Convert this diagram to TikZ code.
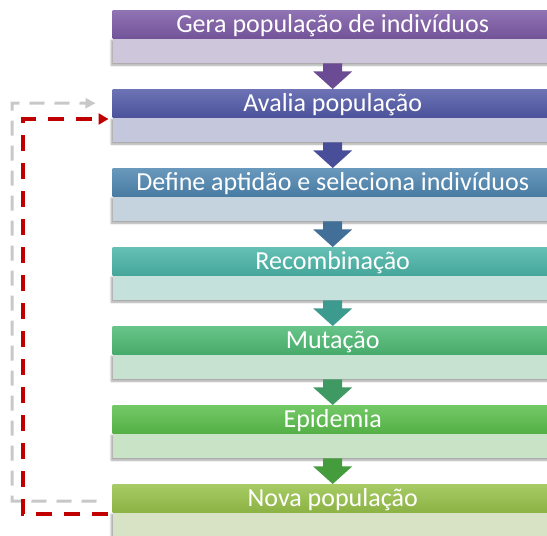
\documentclass[tikz,border=0pt]{standalone}
\usepackage{fontspec}
\setmainfont{Carlito}
\usetikzlibrary{calc,arrows.meta,shadows.blur}
\definecolor{h1}{HTML}{7D5BA6}\definecolor{c1}{HTML}{CEC6DA}\definecolor{a1}{HTML}{6A4B94}
\definecolor{h2}{HTML}{535AA8}\definecolor{c2}{HTML}{C5C7DD}\definecolor{a2}{HTML}{484F98}
\definecolor{h3}{HTML}{4F86B1}\definecolor{c3}{HTML}{C5D3DF}\definecolor{a3}{HTML}{426F97}
\definecolor{h4}{HTML}{4BB5A8}\definecolor{c4}{HTML}{C5E1DC}\definecolor{a4}{HTML}{3C9A8E}
\definecolor{h5}{HTML}{4DBA74}\definecolor{c5}{HTML}{C7E2D0}\definecolor{a5}{HTML}{3E9A62}
\definecolor{h6}{HTML}{5BBF4C}\definecolor{c6}{HTML}{C9E3C6}\definecolor{a6}{HTML}{459C3D}
\definecolor{h7}{HTML}{98C24A}\definecolor{c7}{HTML}{D8E3C5}
\definecolor{loopred}{HTML}{C00000}
\definecolor{loopgray}{HTML}{C8C8C8}
\tikzset{
  headbox/.style={rectangle, inner sep=0pt, minimum width=440pt, minimum height=28pt,
    text height=20pt, text depth=4pt, text=white, font=\fontsize{26}{28}\selectfont,
    anchor=north west},
  bodybox/.style={rectangle, inner sep=0pt, minimum width=440pt, minimum height=25pt,
    anchor=north west, blur shadow={shadow xshift=-1.5pt, shadow yshift=-2pt, shadow blur steps=4, shadow opacity=35}},
  redloop/.style={draw=loopred, line width=3.5pt, dash pattern=on 16pt off 12pt, -{Triangle[length=10pt,width=11pt]}},
  grayloop/.style={draw=loopgray, line width=3pt, dash pattern=on 15pt off 10pt, -{Triangle[length=10pt,width=10pt]}},
}
\newcommand{\flowarrow}[3]{%
  \fill[#3] ($(#1.south)+(-9.5,0)$) -- ($(#1.south)+(9.5,0)$) -- ($(#1.south)+(9.5,8)$)
    -- ($(#1.south)+(19.5,8)$) -- (#2.north) -- ($(#1.south)+(-19.5,8)$)
    -- ($(#1.south)+(-9.5,8)$) -- cycle;}
\begin{document}
\begin{tikzpicture}[x=1pt,y=-1pt]
\useasboundingbox (0,0) rectangle (547,536);
\begin{scope}
\clip (0,0) rectangle (547,536);
\foreach \i/\t in {1/{Gera população de indivíduos},2/{Avalia população},3/{Define aptidão e seleciona indivíduos},4/{Recombinação},5/{Mutação},6/{Epidemia},7/{Nova população}}{
  \node[bodybox, fill=c\i] (b\i) at (112.5,{10+79*(\i-1)+28}) {};
  \node[headbox, top color=h\i!85!white, bottom color=h\i!92!black] (h\i) at (112.5,{10+79*(\i-1)}) {\t};
}
\end{scope}
\flowarrow{b1}{h2}{a1}
\flowarrow{b2}{h3}{a2}
\flowarrow{b3}{h4}{a3}
\flowarrow{b4}{h5}{a4}
\flowarrow{b5}{h6}{a5}
\flowarrow{b6}{h7}{a6}
% loop connectors
\coordinate (gs) at ($(h7.west)+(-16,3)$);
\coordinate (ge) at ($(h2.west)+(-17,0)$);
\draw[grayloop] (gs) -- (12,501) -- (12,103) -- (ge);
\coordinate (rs) at ($(b7.north west)+(-5,2)$);
\coordinate (re) at ($(b2.north west)+(-4,2)$);
\draw[redloop] (rs) -- (23,514) -- (23,119) -- (re);
\end{tikzpicture}
\end{document}
